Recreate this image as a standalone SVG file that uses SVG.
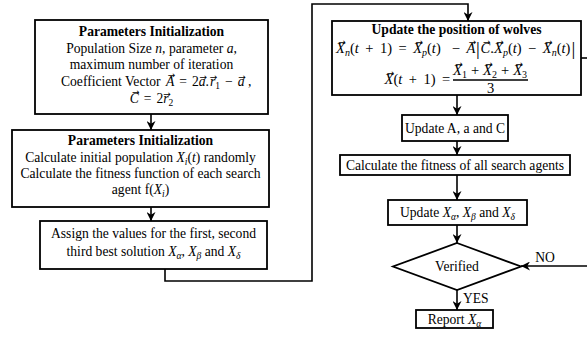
<svg xmlns="http://www.w3.org/2000/svg" width="587" height="338" viewBox="0 0 587 338" font-family="'Liberation Serif', 'Times New Roman', serif">
<defs>
<marker id="ah" viewBox="0 0 10 10" refX="10" refY="5" markerWidth="9" markerHeight="9" markerUnits="userSpaceOnUse" orient="auto">
<path d="M0,0 L10,5 L0,10 L3,5 z" fill="#000"/>
</marker>
<style>
.box{fill:#fff;stroke:#000;stroke-width:1.8}
.ln{fill:none;stroke:#000;stroke-width:1.6}
.arr{fill:none;stroke:#000;stroke-width:1.6;marker-end:url(#ah)}
text{font-family:"Liberation Serif","Times New Roman",serif;font-size:13.6px;fill:#000}
.c{text-anchor:middle}
.b{font-weight:bold}
.m{font-style:italic}
.s{font-size:9.5px;baseline-shift:-3px}
.q{font-size:14.5px}
.qs{font-size:10px}
text.v{font-family:"DejaVu Sans",sans-serif;font-size:9px;text-anchor:middle}
.bar{font-size:19px}
</style>
</defs>
<g id="connectors">
<path class="arr" d="M151,114 V130"/>
<path class="arr" d="M151,207 V221"/>
<path class="arr" d="M165,269 V281 H312 V4 H468 V21"/>
<path class="ln" d="M581,58 H587"/>
<path class="arr" d="M457,95 V115"/>
<path class="arr" d="M457,141 V155"/>
<path class="arr" d="M457,175 V200"/>
<path class="arr" d="M457,225 V243"/>
<path class="arr" d="M457,290 V310"/>
<path class="arr" d="M587,266 H521"/>
<text x="545" y="262" class="c">NO</text>
<text x="463" y="303">YES</text>
</g>
<g id="n1">
<rect class="box" x="35" y="20" width="233" height="94"/>
<text x="151.5" y="36" class="c b">Parameters Initialization</text>
<text x="151.5" y="53" class="c">Population Size <tspan class="m">n</tspan>, parameter <tspan class="m">a</tspan>,</text>
<text x="151.5" y="69" class="c">maximum number of iteration</text>
<text y="86"><tspan x="61">Coefficient Vector</tspan><tspan x="166" class="m">A</tspan><tspan x="179.3">=</tspan><tspan x="192">2</tspan><tspan x="198.8" class="m">a</tspan><tspan x="205.6">.</tspan><tspan x="210" class="m">r</tspan><tspan x="215.3" y="89" font-size="9.5px">1</tspan><tspan x="225" y="86">−</tspan><tspan x="237.7" class="m">a</tspan><tspan x="248">,</tspan></text>
<text x="171.6" y="78" class="v">→</text>
<text x="203.2" y="80" class="v">→</text>
<text x="213.6" y="80" class="v">→</text>
<text x="242.1" y="80" class="v">→</text>
<text y="103"><tspan x="129.7" class="m">C</tspan><tspan x="143.8">=</tspan><tspan x="156.5">2</tspan><tspan x="163.3" class="m">r</tspan><tspan x="168.6" y="106" font-size="9.5px">2</tspan></text>
<text x="135.7" y="95" class="v">→</text>
<text x="166.9" y="97" class="v">→</text>
</g>
<g id="n2">
<rect class="box" x="12" y="130" width="257" height="77"/>
<text x="140.5" y="145" class="c b">Parameters Initialization</text>
<text x="140.5" y="162" class="c">Calculate initial population <tspan class="m">X</tspan><tspan class="s m">i</tspan>(<tspan class="m">t</tspan>) randomly</text>
<text x="140.5" y="178" class="c">Calculate the fitness function of each search</text>
<text x="140.5" y="194" class="c">agent f(<tspan class="m">X</tspan><tspan class="s m">i</tspan>)</text>
</g>
<g id="n3">
<rect class="box" x="40" y="221" width="227" height="48"/>
<text x="153.5" y="238" class="c">Assign the values for the first, second</text>
<text x="153.5" y="256" class="c">third best solution <tspan class="m">X</tspan><tspan class="s m">α</tspan>, <tspan class="m">X</tspan><tspan class="s m">β</tspan> and <tspan class="m">X</tspan><tspan class="s m">δ</tspan></text>
</g>
<g id="n4">
<rect class="box" x="332" y="21" width="249" height="74"/>
<text x="456.5" y="34" class="c b">Update the position of wolves</text>
<text y="53" class="q"><tspan x="336" class="m">X</tspan><tspan x="344.9" y="56" class="m qs">n</tspan><tspan x="349.9" y="53">(</tspan><tspan x="354.7" class="m">t</tspan><tspan x="365.2">+</tspan><tspan x="379.9">1</tspan><tspan x="387.2">)</tspan><tspan x="398.5">=</tspan><tspan x="413.2" class="m">X</tspan><tspan x="422" y="56" class="m qs">p</tspan><tspan x="427" y="53">(</tspan><tspan x="431.8" class="m">t</tspan><tspan x="435.9">)</tspan><tspan x="451.7">−</tspan><tspan x="466.4" class="m">A</tspan><tspan x="476" y="55" class="bar">|</tspan><tspan x="480.5" y="53" class="m">C</tspan><tspan x="490.2">.</tspan><tspan x="494" class="m">X</tspan><tspan x="502.9" y="56" class="m qs">p</tspan><tspan x="507.9" y="53">(</tspan><tspan x="512.7" class="m">t</tspan><tspan x="516.8">)</tspan><tspan x="528.1">−</tspan><tspan x="542.8" class="m">X</tspan><tspan x="551.7" y="56" class="m qs">n</tspan><tspan x="556.7" y="53">(</tspan><tspan x="561.5" class="m">t</tspan><tspan x="565.6">)</tspan><tspan x="571.5" y="55" class="bar">|</tspan></text>
<text x="342" y="44.5" class="v">→</text>
<text x="419.2" y="44.5" class="v">→</text>
<text x="472.4" y="44.5" class="v">→</text>
<text x="486.8" y="44.5" class="v">→</text>
<text x="500" y="44.5" class="v">→</text>
<text x="548.8" y="44.5" class="v">→</text>
<text y="84" class="q"><tspan x="384.5" class="m">X</tspan><tspan x="393.4">(</tspan><tspan x="398.2" class="m">t</tspan><tspan x="408.7">+</tspan><tspan x="423.4">1</tspan><tspan x="430.7">)</tspan><tspan x="442">=</tspan></text>
<text x="390.5" y="75.5" class="v">→</text>
<text y="75" class="q"><tspan x="453" class="m">X</tspan><tspan x="461.9" y="78" class="qs">1</tspan><tspan x="470.9" y="75">+</tspan><tspan x="483.1" class="m">X</tspan><tspan x="492" y="78" class="qs">2</tspan><tspan x="501" y="75">+</tspan><tspan x="513.2" class="m">X</tspan><tspan x="522.1" y="78" class="qs">3</tspan></text>
<text x="459" y="66.5" class="v">→</text>
<text x="489.1" y="66.5" class="v">→</text>
<text x="519.2" y="66.5" class="v">→</text>
<path class="ln" d="M453,80 H528" stroke-width="1"/>
<text x="490.5" y="92.5" class="c q">3</text>
</g>
<g id="n5">
<rect class="box" x="402" y="115" width="106" height="26"/>
<text x="455" y="133" class="c">Update A, a and C</text>
</g>
<g id="n6">
<rect class="box" x="340" y="155" width="230" height="20"/>
<text x="455" y="170" class="c">Calculate the fitness of all search agents</text>
</g>
<g id="n7">
<rect class="box" x="388" y="200" width="139" height="25"/>
<text x="457.5" y="217" class="c">Update <tspan class="m">X</tspan><tspan class="s m">α</tspan>, <tspan class="m">X</tspan><tspan class="s m">β</tspan> and <tspan class="m">X</tspan><tspan class="s m">δ</tspan></text>
</g>
<g id="n8">
<polygon class="box" points="457,243 521,266.5 457,290 393,266.5"/>
<text x="457" y="271" class="c">Verified</text>
</g>
<g id="n9">
<rect class="box" x="416" y="310" width="77" height="18"/>
<text x="454.5" y="324" class="c">Report <tspan class="m">X</tspan><tspan class="s m">α</tspan></text>
</g>
</svg>
